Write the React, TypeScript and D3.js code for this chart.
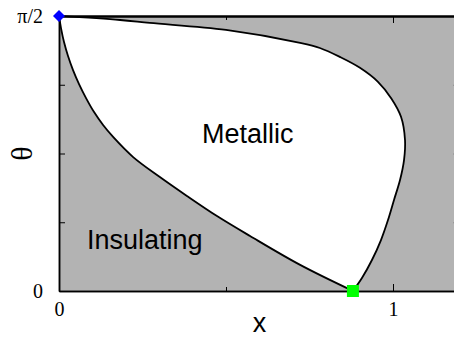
import { useEffect, useRef } from "react";
import * as d3 from "d3";

// boundary between insulating (lower left) and metallic region, [x, theta]
const lowerX = [0, 0.006, 0.015, 0.027, 0.042, 0.06, 0.081, 0.105, 0.132, 0.162, 0.222, 0.302, 0.383, 0.473, 0.572, 0.722, 0.88];
const lowerTheta = [1.571, 1.502, 1.422, 1.342, 1.262, 1.182, 1.102, 1.022, 0.948, 0.88, 0.765, 0.651, 0.543, 0.428, 0.314, 0.149, 0];

// upper / right boundary of the metallic region
const upperX = [0, 0.183, 0.272, 0.5, 0.722, 0.781, 0.841, 0.901, 0.955, 0.995, 1.024, 1.036, 1.033, 1.021, 1.003, 0.985, 0.964, 0.937, 0.907, 0.88];
const upperTheta = [1.571, 1.548, 1.531, 1.491, 1.417, 1.388, 1.337, 1.275, 1.195, 1.1, 0.995, 0.862, 0.748, 0.634, 0.52, 0.405, 0.291, 0.177, 0.074, 0];

const xMajor = [0, 1];
const xMinor = [0.5];
const thetaMajor = [0, Math.PI / 2];
const thetaMinor = [Math.PI / 8, Math.PI / 4, (3 * Math.PI) / 8];
const thetaLabels = ["0", "π/2"];

const width = 454;
const height = 339;
const margin = { left: 59, top: 16, bottom: 48 };

export default function App() {
  const svgRef = useRef<SVGSVGElement>(null);

  useEffect(() => {
    const svg = d3.select(svgRef.current);
    svg.selectAll("*").remove();

    const plotH = height - margin.top - margin.bottom;
    const xScale = d3.scaleLinear().domain([0, 1.2]).range([margin.left, margin.left + 1.2 * 334]);
    const yScale = d3.scaleLinear().domain([0, Math.PI / 2]).range([margin.top + plotH, margin.top]);
    const x0 = xScale(0), x1 = xScale(1.2), y0 = yScale(0), y1 = yScale(Math.PI / 2);

    // gray background = insulating
    svg.append("rect")
      .attr("x", x0).attr("y", y1)
      .attr("width", x1 - x0).attr("height", y0 - y1)
      .attr("fill", "#b3b3b3");

    const lower = lowerX.map((v, i) => [v, lowerTheta[i]] as [number, number]);
    const upper = upperX.map((v, i) => [v, upperTheta[i]] as [number, number]);

    const line = d3.line<[number, number]>()
      .x((d) => xScale(d[0]))
      .y((d) => yScale(d[1]))
      .curve(d3.curveCatmullRom.alpha(0.5));

    // metallic region: lower curve down, then upper curve back up
    const lowerPath = line(lower) ?? "";
    const upperBack = (line(upper.slice().reverse()) ?? "").replace(/^M/, "L");
    svg.append("path")
      .attr("d", lowerPath + upperBack + "Z")
      .attr("fill", "white");

    svg.append("path").attr("d", lowerPath)
      .attr("fill", "none").attr("stroke", "black").attr("stroke-width", 1.8);
    svg.append("path").attr("d", line(upper) ?? "")
      .attr("fill", "none").attr("stroke", "black").attr("stroke-width", 1.8);

    // axes, ticks pointing inward
    const styleAxis = (g: any) => {
      g.attr("font-size", null).attr("font-family", null);
      g.select(".domain").attr("stroke", "black").attr("stroke-width", 1.5);
      g.selectAll(".tick line").attr("stroke", "black").attr("stroke-width", 1);
      g.selectAll(".tick text")
        .style("font-family", "'Liberation Serif', 'Times New Roman', serif")
        .style("font-size", "20px").attr("fill", "black");
    };

    svg.append("g").attr("transform", `translate(0,${y0})`)
      .call(d3.axisBottom(xScale).tickValues(xMajor).tickSizeInner(-7).tickSizeOuter(0)
        .tickPadding(11).tickFormat((d) => String(d)))
      .call(styleAxis);
    svg.append("g").attr("transform", `translate(0,${y0})`)
      .call(d3.axisBottom(xScale).tickValues(xMinor).tickSizeInner(-4).tickSizeOuter(0).tickFormat(() => ""))
      .call(styleAxis);
    svg.append("g").attr("transform", `translate(0,${y1})`)
      .call(d3.axisTop(xScale).tickValues(xMajor).tickSizeInner(-7).tickSizeOuter(0).tickFormat(() => ""))
      .call(styleAxis)
      .call((g: any) => g.select(".domain").attr("stroke-width", 2.2));
    svg.append("g").attr("transform", `translate(0,${y1})`)
      .call(d3.axisTop(xScale).tickValues(xMinor).tickSizeInner(-4).tickSizeOuter(0).tickFormat(() => ""))
      .call(styleAxis)
      .call((g: any) => g.select(".domain").attr("stroke-width", 2.2));

    svg.append("g").attr("transform", `translate(${x0},0)`)
      .call(d3.axisLeft(yScale).tickValues(thetaMajor).tickSizeInner(-7).tickSizeOuter(0)
        .tickPadding(16).tickFormat((d, i) => thetaLabels[i]))
      .call(styleAxis);
    svg.append("g").attr("transform", `translate(${x0},0)`)
      .call(d3.axisLeft(yScale).tickValues(thetaMinor).tickSizeInner(-6).tickSizeOuter(0).tickFormat(() => ""))
      .call(styleAxis);
    svg.append("g").attr("transform", `translate(${x1},0)`)
      .call(d3.axisRight(yScale).tickValues(thetaMinor).tickSizeInner(-6).tickSizeOuter(0).tickFormat(() => ""))
      .call(styleAxis);

    // axis titles
    svg.append("text")
      .attr("transform", `translate(${32},${(y0 + y1) / 2}) rotate(-90)`)
      .attr("text-anchor", "middle")
      .attr("font-family", "'Liberation Serif', 'Times New Roman', serif")
      .attr("font-size", 30)
      .text("θ");
    svg.append("text")
      .attr("x", xScale(0.6)).attr("y", 332)
      .attr("text-anchor", "middle")
      .attr("font-family", "'Liberation Sans', Arial, sans-serif")
      .attr("font-size", 27)
      .text("x");

    // region labels
    svg.append("text")
      .attr("x", 202).attr("y", 143)
      .attr("font-family", "'Liberation Sans', Arial, sans-serif")
      .attr("font-size", 27)
      .text("Metallic");
    svg.append("text")
      .attr("x", 87).attr("y", 249)
      .attr("font-family", "'Liberation Sans', Arial, sans-serif")
      .attr("font-size", 27)
      .text("Insulating");

    // end-point markers
    svg.append("path")
      .attr("d", d3.symbol(d3.symbolSquare, 72)() ?? "")
      .attr("transform", `translate(${xScale(0)},${yScale(Math.PI / 2)}) rotate(45)`)
      .attr("fill", "#0000ff");
    svg.append("path")
      .attr("d", d3.symbol(d3.symbolSquare, 144)() ?? "")
      .attr("transform", `translate(${xScale(lowerX[lowerX.length - 1])},${yScale(0)})`)
      .attr("fill", "#00ff00");
  }, []);

  return (
    <svg
      ref={svgRef}
      width={width}
      height={height}
      style={{ position: "absolute", left: 0, top: 0, overflow: "hidden", background: "white" }}
    />
  );
}
